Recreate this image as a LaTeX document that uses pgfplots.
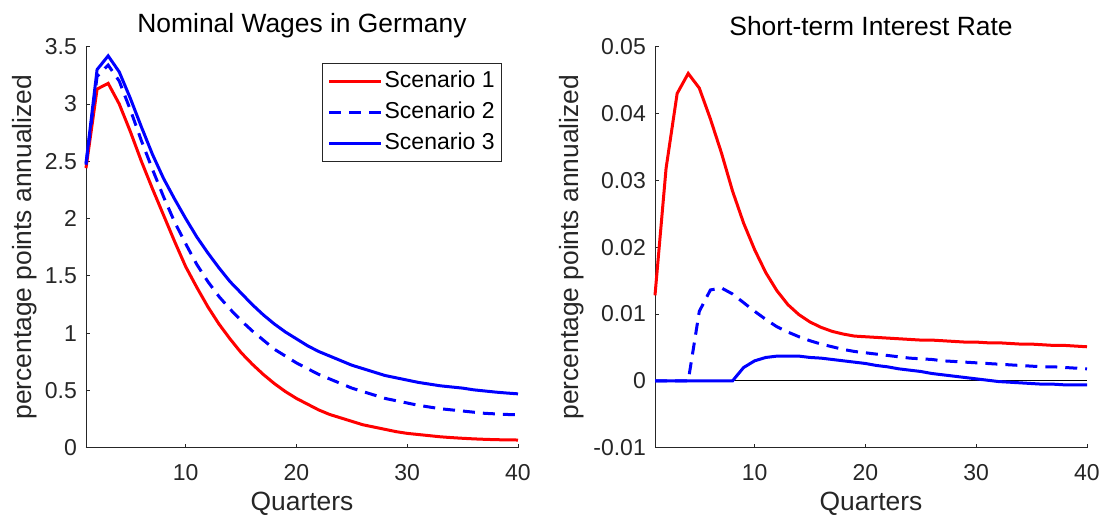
\documentclass[border=0pt]{standalone}
\usepackage{fontspec}
\setmainfont{Liberation Sans}
\usepackage{pgfplots}
\usepackage{pgfplotstable}
\pgfplotsset{compat=1.18}
\definecolor{axgray}{RGB}{38,38,38}

\pgfplotstableread{
q s1 s2 s3
1 2.44 2.47 2.48
2 3.13 3.24 3.30
3 3.18 3.34 3.42
4 3.00 3.20 3.28
5 2.76 2.95 3.05
6 2.50 2.68 2.80
7 2.26 2.43 2.56
8 2.03 2.19 2.35
9 1.80 1.97 2.17
10 1.58 1.78 2.00
11 1.40 1.60 1.84
12 1.23 1.45 1.70
13 1.08 1.32 1.57
14 0.95 1.21 1.45
15 0.83 1.11 1.35
16 0.73 1.02 1.25
17 0.64 0.94 1.16
18 0.56 0.86 1.08
19 0.49 0.80 1.01
20 0.43 0.74 0.95
21 0.38 0.69 0.89
22 0.33 0.64 0.84
23 0.29 0.60 0.80
24 0.26 0.56 0.76
25 0.23 0.52 0.72
26 0.20 0.49 0.69
27 0.18 0.46 0.66
28 0.16 0.43 0.63
29 0.14 0.41 0.61
30 0.125 0.39 0.59
31 0.115 0.37 0.57
32 0.105 0.355 0.555
33 0.095 0.34 0.54
34 0.088 0.33 0.53
35 0.082 0.32 0.52
36 0.077 0.31 0.505
37 0.073 0.30 0.495
38 0.070 0.295 0.485
39 0.068 0.29 0.477
40 0.067 0.287 0.47
}\wages

\pgfplotstableread{
q s1 s2 s3
1 0.0128 0 0
2 0.0318 0 0
3 0.0430 0 0
4 0.0460 0 0
5 0.0438 0.0104 0
6 0.0392 0.0136 0
7 0.0341 0.0139 0
8 0.0284 0.0130 0
9 0.0236 0.0117 0.0020
10 0.0196 0.0104 0.0030
11 0.0162 0.0092 0.0035
12 0.0135 0.0081 0.0037
13 0.0114 0.0073 0.0037
14 0.0099 0.0066 0.0037
15 0.0088 0.0060 0.0035
16 0.0080 0.0055 0.0034
17 0.0074 0.0051 0.0032
18 0.0070 0.0047 0.0030
19 0.0067 0.0044 0.0028
20 0.0066 0.0042 0.0026
21 0.0065 0.0040 0.0023
22 0.0064 0.0038 0.0021
23 0.0063 0.0036 0.0018
24 0.0062 0.0034 0.0016
25 0.0061 0.0033 0.0014
26 0.0061 0.0032 0.0011
27 0.0060 0.0030 0.0009
28 0.0059 0.0029 0.0007
29 0.0058 0.0028 0.0005
30 0.0058 0.0027 0.0003
31 0.0057 0.0026 0.0001
32 0.0057 0.0025 -0.0001
33 0.0056 0.0024 -0.0002
34 0.0055 0.0023 -0.0003
35 0.0055 0.0022 -0.0004
36 0.0054 0.0021 -0.0005
37 0.0053 0.0021 -0.0005
38 0.0053 0.0020 -0.0006
39 0.0052 0.0019 -0.0006
40 0.0051 0.0018 -0.0006
}\rate

\pgfplotsset{
 mystyle/.style={
  scale only axis, width=432pt, height=401pt,
  xmin=1, xmax=40,
  axis x line*=bottom, axis y line*=left,
  axis line style={-, draw=axgray, line width=0.8pt},
  tick align=inside, major tick length=4pt,
  tick style={draw=axgray, line width=0.8pt},
  xtick={10,20,30,40}, xticklabels={10,20,30,40},
  scaled y ticks=false,
  tick label style={font=\fontsize{23}{27}\selectfont, text=axgray},
  xticklabel style={anchor=center, inner sep=0pt, yshift=-25pt},
  yticklabel style={anchor=east, inner sep=0pt, xshift=-9pt},
  label style={font=\fontsize{26.4}{30}\selectfont, text=axgray},
  title style={font=\fontsize{26.4}{30}\selectfont, text=black, at={(0.5,1.037)}, anchor=center},
  xlabel style={at={(0.5,-0.141)}, anchor=center},
  clip=false,
  xlabel={Quarters},
  ylabel={percentage points annualized},
 },
 s1/.style={red, line width=3pt},
 s2/.style={blue, line width=3pt, dash pattern=on 12pt off 8pt},
 s3/.style={blue, line width=3pt},
}

\begin{document}
\begin{tikzpicture}
\path[use as bounding box] (-86pt,-70.3pt) rectangle (1015pt,447.7pt);
\begin{axis}[mystyle,
  at={(0pt,0pt)}, anchor=south west,
  title={Nominal Wages in Germany},
  ymin=0, ymax=3.5,
  ytick={0,0.5,1,1.5,2,2.5,3,3.5},
  yticklabels={0,0.5,1,1.5,2,2.5,3,3.5},
  ylabel style={at={(-0.1412,0.5)}, anchor=center},
  legend cell align=left,
  legend image code/.code={\draw[#1] (0pt,0pt) -- (52pt,0pt);},
  legend style={at={(0.963,0.960)}, anchor=north east, draw=axgray, line width=0.8pt,
    fill=white, font=\fontsize{23}{27}\selectfont, inner xsep=5pt, inner ysep=5pt,
    row sep=5pt, nodes={inner sep=2pt, text height=17pt, text depth=5pt}},
]
\addplot[s1] table[x=q, y=s1] {\wages};
\addlegendentry{Scenario 1}
\addplot[s2] table[x=q, y=s2] {\wages};
\addlegendentry{Scenario 2}
\addplot[s3] table[x=q, y=s3] {\wages};
\addlegendentry{Scenario 3}
\end{axis}
\begin{axis}[mystyle,
  at={(569pt,0pt)}, anchor=south west,
  title={Short-term Interest Rate},
  ymin=-0.01, ymax=0.05,
  ytick={-0.01,0,0.01,0.02,0.03,0.04,0.05},
  yticklabels={-0.01,0,0.01,0.02,0.03,0.04,0.05},
  ylabel style={at={(-0.192,0.5)}, anchor=center},
]
\addplot[black, line width=0.8pt, forget plot] coordinates {(1,0) (40,0)};
\addplot[s1] table[x=q, y=s1] {\rate};
\addplot[s2] table[x=q, y=s2] {\rate};
\addplot[s3] table[x=q, y=s3] {\rate};
\end{axis}
\end{tikzpicture}
\end{document}
